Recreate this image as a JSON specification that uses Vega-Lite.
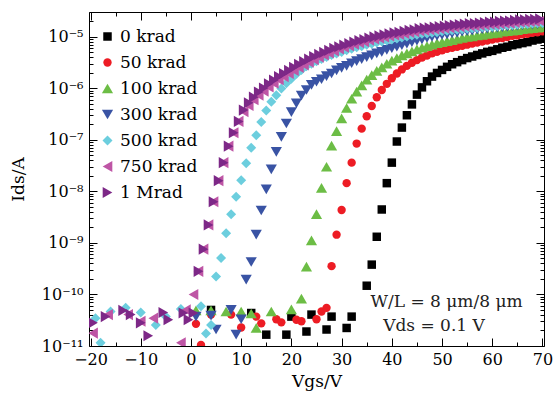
{
"$schema":"https://vega.github.io/schema/vega-lite/v6.json",
"width":455,"height":334,
"autosize":{"type":"none"},
"padding":{"left":89,"top":12,"right":10,"bottom":54},
"background":"white",
"config":{"view":{"stroke":null},"font":"DejaVu Serif",
 "axis":{"grid":false,"domainColor":"black","tickColor":"black","labelColor":"black","titleColor":"black","labelFont":"DejaVu Serif","titleFont":"DejaVu Serif","labelFontSize":16,"titleFontSize":17,"titleFontWeight":"normal","domainWidth":1,"tickWidth":1},
 "legend":{"orient":"none","legendX":10,"legendY":16,"padding":0,"labelFont":"DejaVu Serif","labelFontSize":17,"labelColor":"black","rowPadding":8,"labelOffset":4,"symbolStrokeWidth":0,"symbolOpacity":1}},
"datasets":{
"pts":[
{"s":"0 krad","v":4,"i":5.01e-11},{"s":"0 krad","v":12,"i":4.37e-11},{"s":"0 krad","v":15,"i":1.66e-11},{"s":"0 krad","v":19,"i":1.66e-11},{"s":"0 krad","v":20,"i":3.72e-11},{"s":"0 krad","v":23,"i":1.91e-11},{"s":"0 krad","v":24,"i":4.07e-11},{"s":"0 krad","v":27,"i":2.09e-11},{"s":"0 krad","v":28,"i":3.72e-11},{"s":"0 krad","v":31,"i":2.24e-11},{"s":"0 krad","v":32,"i":3.72e-11},
{"s":"0 krad","v":35,"i":1.48e-10},{"s":"0 krad","v":36,"i":3.80e-10},{"s":"0 krad","v":37,"i":1.32e-9},{"s":"0 krad","v":38,"i":4.47e-9},{"s":"0 krad","v":39,"i":1.45e-8},{"s":"0 krad","v":40,"i":3.63e-8},{"s":"0 krad","v":41,"i":9.33e-8},{"s":"0 krad","v":42,"i":1.74e-7},{"s":"0 krad","v":43,"i":3.02e-7},{"s":"0 krad","v":44,"i":4.90e-7},{"s":"0 krad","v":45,"i":7.59e-7},{"s":"0 krad","v":46,"i":1.05e-6},{"s":"0 krad","v":47,"i":1.38e-6},{"s":"0 krad","v":48,"i":1.70e-6},{"s":"0 krad","v":49,"i":2.00e-6},{"s":"0 krad","v":50,"i":2.29e-6},{"s":"0 krad","v":51,"i":2.63e-6},{"s":"0 krad","v":52,"i":2.95e-6},{"s":"0 krad","v":53,"i":3.24e-6},{"s":"0 krad","v":54,"i":3.55e-6},{"s":"0 krad","v":55,"i":3.89e-6},{"s":"0 krad","v":56,"i":4.17e-6},{"s":"0 krad","v":57,"i":4.47e-6},{"s":"0 krad","v":58,"i":4.79e-6},{"s":"0 krad","v":59,"i":5.13e-6},{"s":"0 krad","v":60,"i":5.37e-6},{"s":"0 krad","v":61,"i":5.75e-6},{"s":"0 krad","v":62,"i":6.17e-6},{"s":"0 krad","v":63,"i":6.46e-6},{"s":"0 krad","v":64,"i":6.92e-6},{"s":"0 krad","v":65,"i":7.24e-6},{"s":"0 krad","v":66,"i":7.59e-6},{"s":"0 krad","v":67,"i":7.94e-6},{"s":"0 krad","v":68,"i":8.51e-6},{"s":"0 krad","v":69,"i":8.91e-6},{"s":"0 krad","v":70,"i":9.33e-6},
{"s":"50 krad","v":1,"i":2.69e-11},{"s":"50 krad","v":2,"i":1.05e-11},{"s":"50 krad","v":4,"i":4.07e-11},{"s":"50 krad","v":8,"i":4.07e-11},{"s":"50 krad","v":10,"i":2.29e-11},{"s":"50 krad","v":13,"i":3.72e-11},{"s":"50 krad","v":14,"i":2.75e-11},{"s":"50 krad","v":17,"i":3.31e-11},{"s":"50 krad","v":18,"i":2.88e-11},{"s":"50 krad","v":21,"i":3.24e-11},{"s":"50 krad","v":22,"i":3.02e-11},{"s":"50 krad","v":25,"i":3.31e-11},{"s":"50 krad","v":26,"i":4.68e-11},{"s":"50 krad","v":27,"i":5.50e-11},
{"s":"50 krad","v":28,"i":3.55e-10},{"s":"50 krad","v":29,"i":1.45e-9},{"s":"50 krad","v":30,"i":4.37e-9},{"s":"50 krad","v":31,"i":1.45e-8},{"s":"50 krad","v":32,"i":3.63e-8},{"s":"50 krad","v":33,"i":8.51e-8},{"s":"50 krad","v":34,"i":1.66e-7},{"s":"50 krad","v":35,"i":2.88e-7},{"s":"50 krad","v":36,"i":4.57e-7},{"s":"50 krad","v":37,"i":6.76e-7},{"s":"50 krad","v":38,"i":9.33e-7},{"s":"50 krad","v":39,"i":1.23e-6},{"s":"50 krad","v":40,"i":1.58e-6},{"s":"50 krad","v":41,"i":1.95e-6},{"s":"50 krad","v":42,"i":2.34e-6},{"s":"50 krad","v":43,"i":2.75e-6},{"s":"50 krad","v":44,"i":3.16e-6},{"s":"50 krad","v":45,"i":3.55e-6},{"s":"50 krad","v":46,"i":3.98e-6},{"s":"50 krad","v":47,"i":4.37e-6},{"s":"50 krad","v":48,"i":4.79e-6},{"s":"50 krad","v":49,"i":5.13e-6},{"s":"50 krad","v":50,"i":5.50e-6},{"s":"50 krad","v":51,"i":5.89e-6},{"s":"50 krad","v":52,"i":6.17e-6},{"s":"50 krad","v":53,"i":6.46e-6},{"s":"50 krad","v":54,"i":6.76e-6},{"s":"50 krad","v":55,"i":7.08e-6},{"s":"50 krad","v":56,"i":7.41e-6},{"s":"50 krad","v":57,"i":7.76e-6},{"s":"50 krad","v":58,"i":8.13e-6},{"s":"50 krad","v":59,"i":8.51e-6},{"s":"50 krad","v":60,"i":8.91e-6},{"s":"50 krad","v":61,"i":9.33e-6},{"s":"50 krad","v":62,"i":9.55e-6},{"s":"50 krad","v":63,"i":1.00e-5},{"s":"50 krad","v":64,"i":1.05e-5},{"s":"50 krad","v":65,"i":1.07e-5},{"s":"50 krad","v":66,"i":1.12e-5},{"s":"50 krad","v":67,"i":1.15e-5},{"s":"50 krad","v":68,"i":1.20e-5},{"s":"50 krad","v":69,"i":1.23e-5},{"s":"50 krad","v":70,"i":1.29e-5},
{"s":"100 krad","v":1,"i":4.90e-11},{"s":"100 krad","v":4,"i":4.90e-11},{"s":"100 krad","v":7,"i":4.68e-11},{"s":"100 krad","v":10,"i":4.68e-11},{"s":"100 krad","v":12,"i":4.27e-11},{"s":"100 krad","v":13,"i":2.24e-11},{"s":"100 krad","v":16,"i":4.68e-11},{"s":"100 krad","v":20,"i":5.13e-11},
{"s":"100 krad","v":22,"i":8.32e-11},{"s":"100 krad","v":23,"i":3.47e-10},{"s":"100 krad","v":24,"i":1.12e-9},{"s":"100 krad","v":25,"i":3.63e-9},{"s":"100 krad","v":26,"i":1.17e-8},{"s":"100 krad","v":27,"i":3.02e-8},{"s":"100 krad","v":28,"i":7.76e-8},{"s":"100 krad","v":29,"i":1.48e-7},{"s":"100 krad","v":30,"i":2.63e-7},{"s":"100 krad","v":31,"i":4.17e-7},{"s":"100 krad","v":32,"i":6.31e-7},{"s":"100 krad","v":33,"i":8.71e-7},{"s":"100 krad","v":34,"i":1.15e-6},{"s":"100 krad","v":35,"i":1.48e-6},{"s":"100 krad","v":36,"i":1.82e-6},{"s":"100 krad","v":37,"i":2.19e-6},{"s":"100 krad","v":38,"i":2.57e-6},{"s":"100 krad","v":39,"i":3.02e-6},{"s":"100 krad","v":40,"i":3.47e-6},{"s":"100 krad","v":41,"i":3.89e-6},{"s":"100 krad","v":42,"i":4.37e-6},{"s":"100 krad","v":43,"i":4.79e-6},{"s":"100 krad","v":44,"i":5.25e-6},{"s":"100 krad","v":45,"i":5.75e-6},{"s":"100 krad","v":46,"i":6.17e-6},{"s":"100 krad","v":47,"i":6.61e-6},{"s":"100 krad","v":48,"i":7.08e-6},{"s":"100 krad","v":49,"i":7.59e-6},{"s":"100 krad","v":50,"i":7.94e-6},{"s":"100 krad","v":51,"i":8.32e-6},{"s":"100 krad","v":52,"i":8.71e-6},{"s":"100 krad","v":53,"i":9.12e-6},{"s":"100 krad","v":54,"i":9.55e-6},{"s":"100 krad","v":55,"i":1.00e-5},{"s":"100 krad","v":56,"i":1.02e-5},{"s":"100 krad","v":57,"i":1.07e-5},{"s":"100 krad","v":58,"i":1.10e-5},{"s":"100 krad","v":59,"i":1.15e-5},{"s":"100 krad","v":60,"i":1.17e-5},{"s":"100 krad","v":61,"i":1.20e-5},{"s":"100 krad","v":62,"i":1.26e-5},{"s":"100 krad","v":63,"i":1.29e-5},{"s":"100 krad","v":64,"i":1.32e-5},{"s":"100 krad","v":65,"i":1.35e-5},{"s":"100 krad","v":66,"i":1.41e-5},{"s":"100 krad","v":67,"i":1.45e-5},{"s":"100 krad","v":68,"i":1.48e-5},{"s":"100 krad","v":69,"i":1.51e-5},{"s":"100 krad","v":70,"i":1.55e-5},
{"s":"300 krad","v":1,"i":3.72e-11},{"s":"300 krad","v":4,"i":3.89e-11},{"s":"300 krad","v":5,"i":2.09e-11},{"s":"300 krad","v":8,"i":5.01e-11},{"s":"300 krad","v":9,"i":1.66e-11},{"s":"300 krad","v":10,"i":3.31e-11},
{"s":"300 krad","v":11,"i":1.95e-10},{"s":"300 krad","v":12,"i":4.27e-10},{"s":"300 krad","v":13,"i":1.45e-9},{"s":"300 krad","v":14,"i":4.27e-9},{"s":"300 krad","v":15,"i":1.10e-8},{"s":"300 krad","v":16,"i":2.69e-8},{"s":"300 krad","v":17,"i":5.89e-8},{"s":"300 krad","v":18,"i":1.15e-7},{"s":"300 krad","v":19,"i":2.09e-7},{"s":"300 krad","v":20,"i":3.47e-7},{"s":"300 krad","v":21,"i":5.13e-7},{"s":"300 krad","v":22,"i":7.24e-7},{"s":"300 krad","v":23,"i":9.33e-7},{"s":"300 krad","v":24,"i":1.17e-6},{"s":"300 krad","v":25,"i":1.35e-6},{"s":"300 krad","v":26,"i":1.51e-6},{"s":"300 krad","v":27,"i":1.74e-6},{"s":"300 krad","v":28,"i":1.95e-6},{"s":"300 krad","v":29,"i":2.24e-6},{"s":"300 krad","v":30,"i":2.51e-6},{"s":"300 krad","v":31,"i":2.75e-6},{"s":"300 krad","v":32,"i":3.09e-6},{"s":"300 krad","v":33,"i":3.39e-6},{"s":"300 krad","v":34,"i":3.72e-6},{"s":"300 krad","v":35,"i":4.07e-6},{"s":"300 krad","v":36,"i":4.37e-6},{"s":"300 krad","v":37,"i":4.79e-6},{"s":"300 krad","v":38,"i":5.13e-6},{"s":"300 krad","v":39,"i":5.62e-6},{"s":"300 krad","v":40,"i":6.03e-6},{"s":"300 krad","v":41,"i":6.46e-6},{"s":"300 krad","v":42,"i":6.92e-6},{"s":"300 krad","v":43,"i":7.41e-6},{"s":"300 krad","v":44,"i":7.94e-6},{"s":"300 krad","v":45,"i":8.51e-6},{"s":"300 krad","v":46,"i":8.91e-6},{"s":"300 krad","v":47,"i":9.55e-6},{"s":"300 krad","v":48,"i":1.00e-5},{"s":"300 krad","v":49,"i":1.05e-5},{"s":"300 krad","v":50,"i":1.10e-5},{"s":"300 krad","v":51,"i":1.12e-5},{"s":"300 krad","v":52,"i":1.17e-5},{"s":"300 krad","v":53,"i":1.20e-5},{"s":"300 krad","v":54,"i":1.26e-5},{"s":"300 krad","v":55,"i":1.29e-5},{"s":"300 krad","v":56,"i":1.32e-5},{"s":"300 krad","v":57,"i":1.38e-5},{"s":"300 krad","v":58,"i":1.41e-5},{"s":"300 krad","v":59,"i":1.45e-5},{"s":"300 krad","v":60,"i":1.48e-5},{"s":"300 krad","v":61,"i":1.51e-5},{"s":"300 krad","v":62,"i":1.55e-5},{"s":"300 krad","v":63,"i":1.58e-5},{"s":"300 krad","v":64,"i":1.62e-5},{"s":"300 krad","v":65,"i":1.66e-5},{"s":"300 krad","v":66,"i":1.70e-5},{"s":"300 krad","v":67,"i":1.74e-5},{"s":"300 krad","v":68,"i":1.74e-5},{"s":"300 krad","v":69,"i":1.78e-5},{"s":"300 krad","v":70,"i":1.82e-5},
{"s":"500 krad","v":-19,"i":3.47e-11},{"s":"500 krad","v":-18,"i":1.15e-11},{"s":"500 krad","v":-16,"i":4.68e-11},{"s":"500 krad","v":-13,"i":5.50e-11},{"s":"500 krad","v":-10,"i":4.47e-11},{"s":"500 krad","v":-7,"i":2.57e-11},{"s":"500 krad","v":-5,"i":3.72e-11},{"s":"500 krad","v":-2,"i":5.25e-11},{"s":"500 krad","v":2,"i":5.89e-11},{"s":"500 krad","v":3,"i":1.74e-11},{"s":"500 krad","v":4,"i":2.57e-11},
{"s":"500 krad","v":5,"i":2.24e-10},{"s":"500 krad","v":6,"i":5.13e-10},{"s":"500 krad","v":7,"i":1.55e-9},{"s":"500 krad","v":8,"i":3.63e-9},{"s":"500 krad","v":9,"i":7.94e-9},{"s":"500 krad","v":10,"i":1.66e-8},{"s":"500 krad","v":11,"i":3.55e-8},{"s":"500 krad","v":12,"i":7.08e-8},{"s":"500 krad","v":13,"i":1.23e-7},{"s":"500 krad","v":14,"i":2.24e-7},{"s":"500 krad","v":15,"i":3.72e-7},{"s":"500 krad","v":16,"i":5.50e-7},{"s":"500 krad","v":17,"i":7.41e-7},{"s":"500 krad","v":18,"i":1.00e-6},{"s":"500 krad","v":19,"i":1.26e-6},{"s":"500 krad","v":20,"i":1.55e-6},{"s":"500 krad","v":21,"i":1.91e-6},{"s":"500 krad","v":22,"i":2.29e-6},{"s":"500 krad","v":23,"i":2.69e-6},{"s":"500 krad","v":24,"i":3.02e-6},{"s":"500 krad","v":25,"i":3.39e-6},{"s":"500 krad","v":26,"i":3.72e-6},{"s":"500 krad","v":27,"i":4.07e-6},{"s":"500 krad","v":28,"i":4.47e-6},{"s":"500 krad","v":29,"i":4.79e-6},{"s":"500 krad","v":30,"i":5.13e-6},{"s":"500 krad","v":31,"i":5.50e-6},{"s":"500 krad","v":32,"i":5.89e-6},{"s":"500 krad","v":33,"i":6.31e-6},{"s":"500 krad","v":34,"i":6.61e-6},{"s":"500 krad","v":35,"i":7.08e-6},{"s":"500 krad","v":36,"i":7.41e-6},{"s":"500 krad","v":37,"i":7.76e-6},{"s":"500 krad","v":38,"i":8.13e-6},{"s":"500 krad","v":39,"i":8.51e-6},{"s":"500 krad","v":40,"i":8.91e-6},{"s":"500 krad","v":41,"i":9.33e-6},{"s":"500 krad","v":42,"i":9.77e-6},{"s":"500 krad","v":43,"i":1.02e-5},{"s":"500 krad","v":44,"i":1.07e-5},{"s":"500 krad","v":45,"i":1.10e-5},{"s":"500 krad","v":46,"i":1.15e-5},{"s":"500 krad","v":47,"i":1.17e-5},{"s":"500 krad","v":48,"i":1.20e-5},{"s":"500 krad","v":49,"i":1.23e-5},{"s":"500 krad","v":50,"i":1.29e-5},{"s":"500 krad","v":51,"i":1.32e-5},{"s":"500 krad","v":52,"i":1.35e-5},{"s":"500 krad","v":53,"i":1.38e-5},{"s":"500 krad","v":54,"i":1.41e-5},{"s":"500 krad","v":55,"i":1.45e-5},{"s":"500 krad","v":56,"i":1.48e-5},{"s":"500 krad","v":57,"i":1.51e-5},{"s":"500 krad","v":58,"i":1.55e-5},{"s":"500 krad","v":59,"i":1.58e-5},{"s":"500 krad","v":60,"i":1.58e-5},{"s":"500 krad","v":61,"i":1.62e-5},{"s":"500 krad","v":62,"i":1.66e-5},{"s":"500 krad","v":63,"i":1.70e-5},{"s":"500 krad","v":64,"i":1.70e-5},{"s":"500 krad","v":65,"i":1.74e-5},{"s":"500 krad","v":66,"i":1.78e-5},{"s":"500 krad","v":67,"i":1.78e-5},{"s":"500 krad","v":68,"i":1.82e-5},{"s":"500 krad","v":69,"i":1.86e-5},{"s":"500 krad","v":70,"i":1.86e-5},
{"s":"750 krad","v":-19.5,"i":1.78e-11},{"s":"750 krad","v":-16.5,"i":4.07e-11},{"s":"750 krad","v":-12.5,"i":4.07e-11},{"s":"750 krad","v":-10,"i":3.02e-11},{"s":"750 krad","v":-7.5,"i":3.47e-11},{"s":"750 krad","v":-2,"i":1.15e-11},{"s":"750 krad","v":-1,"i":5.01e-11},{"s":"750 krad","v":0.5,"i":1.00e-10},
{"s":"750 krad","v":1.5,"i":2.82e-10},{"s":"750 krad","v":2.5,"i":7.59e-10},{"s":"750 krad","v":3.5,"i":2.24e-9},{"s":"750 krad","v":4.5,"i":6.31e-9},{"s":"750 krad","v":5.5,"i":1.62e-8},{"s":"750 krad","v":6.5,"i":3.63e-8},{"s":"750 krad","v":7.5,"i":7.59e-8},{"s":"750 krad","v":8.5,"i":1.38e-7},{"s":"750 krad","v":9.5,"i":2.29e-7},{"s":"750 krad","v":10.5,"i":3.55e-7},{"s":"750 krad","v":11.5,"i":4.68e-7},{"s":"750 krad","v":12.5,"i":6.03e-7},{"s":"750 krad","v":13.5,"i":7.41e-7},{"s":"750 krad","v":14.5,"i":8.91e-7},{"s":"750 krad","v":15.5,"i":1.07e-6},{"s":"750 krad","v":16.5,"i":1.26e-6},{"s":"750 krad","v":17.5,"i":1.48e-6},{"s":"750 krad","v":18.5,"i":1.70e-6},{"s":"750 krad","v":19.5,"i":1.95e-6},{"s":"750 krad","v":20.5,"i":2.24e-6},{"s":"750 krad","v":21.5,"i":2.57e-6},{"s":"750 krad","v":22.5,"i":2.88e-6},{"s":"750 krad","v":23.5,"i":3.24e-6},{"s":"750 krad","v":24.5,"i":3.63e-6},{"s":"750 krad","v":25.5,"i":4.07e-6},{"s":"750 krad","v":26.5,"i":4.47e-6},{"s":"750 krad","v":27.5,"i":4.90e-6},{"s":"750 krad","v":28.5,"i":5.37e-6},{"s":"750 krad","v":29.5,"i":5.89e-6},{"s":"750 krad","v":30.5,"i":6.31e-6},{"s":"750 krad","v":31.5,"i":6.76e-6},{"s":"750 krad","v":32.5,"i":7.24e-6},{"s":"750 krad","v":33.5,"i":7.76e-6},{"s":"750 krad","v":34.5,"i":8.13e-6},{"s":"750 krad","v":35.5,"i":8.71e-6},{"s":"750 krad","v":36.5,"i":9.12e-6},{"s":"750 krad","v":37.5,"i":9.55e-6},{"s":"750 krad","v":38.5,"i":1.00e-5},{"s":"750 krad","v":39.5,"i":1.05e-5},{"s":"750 krad","v":40.5,"i":1.10e-5},{"s":"750 krad","v":41.5,"i":1.12e-5},{"s":"750 krad","v":42.5,"i":1.17e-5},{"s":"750 krad","v":43.5,"i":1.23e-5},{"s":"750 krad","v":44.5,"i":1.26e-5},{"s":"750 krad","v":45.5,"i":1.32e-5},{"s":"750 krad","v":46.5,"i":1.35e-5},{"s":"750 krad","v":47.5,"i":1.38e-5},{"s":"750 krad","v":48.5,"i":1.41e-5},{"s":"750 krad","v":49.5,"i":1.45e-5},{"s":"750 krad","v":50.5,"i":1.48e-5},{"s":"750 krad","v":51.5,"i":1.51e-5},{"s":"750 krad","v":52.5,"i":1.55e-5},{"s":"750 krad","v":53.5,"i":1.58e-5},{"s":"750 krad","v":54.5,"i":1.62e-5},{"s":"750 krad","v":55.5,"i":1.66e-5},{"s":"750 krad","v":56.5,"i":1.66e-5},{"s":"750 krad","v":57.5,"i":1.70e-5},{"s":"750 krad","v":58.5,"i":1.74e-5},{"s":"750 krad","v":59.5,"i":1.78e-5},{"s":"750 krad","v":60.5,"i":1.78e-5},{"s":"750 krad","v":61.5,"i":1.82e-5},{"s":"750 krad","v":62.5,"i":1.86e-5},{"s":"750 krad","v":63.5,"i":1.86e-5},{"s":"750 krad","v":64.5,"i":1.91e-5},{"s":"750 krad","v":65.5,"i":1.95e-5},{"s":"750 krad","v":66.5,"i":1.95e-5},{"s":"750 krad","v":67.5,"i":2.00e-5},{"s":"750 krad","v":68.5,"i":2.00e-5},{"s":"750 krad","v":69.5,"i":2.04e-5},
{"s":"1 Mrad","v":-19.5,"i":2.82e-11},{"s":"1 Mrad","v":-17,"i":3.72e-11},{"s":"1 Mrad","v":-13.5,"i":4.90e-11},{"s":"1 Mrad","v":-12,"i":4.07e-11},{"s":"1 Mrad","v":-10,"i":2.82e-11},{"s":"1 Mrad","v":-8.5,"i":1.58e-11},{"s":"1 Mrad","v":-5.5,"i":4.47e-11},{"s":"1 Mrad","v":-4.5,"i":3.24e-11},{"s":"1 Mrad","v":-1.5,"i":4.37e-11},{"s":"1 Mrad","v":-0.5,"i":3.24e-11},{"s":"1 Mrad","v":0.5,"i":4.37e-11},
{"s":"1 Mrad","v":1.5,"i":2.82e-10},{"s":"1 Mrad","v":2.5,"i":7.59e-10},{"s":"1 Mrad","v":3.5,"i":2.24e-9},{"s":"1 Mrad","v":4.5,"i":6.31e-9},{"s":"1 Mrad","v":5.5,"i":1.62e-8},{"s":"1 Mrad","v":6.5,"i":3.63e-8},{"s":"1 Mrad","v":7.5,"i":7.59e-8},{"s":"1 Mrad","v":8.5,"i":1.38e-7},{"s":"1 Mrad","v":9.5,"i":2.29e-7},{"s":"1 Mrad","v":10.5,"i":3.80e-7},{"s":"1 Mrad","v":11.5,"i":5.25e-7},{"s":"1 Mrad","v":12.5,"i":6.76e-7},{"s":"1 Mrad","v":13.5,"i":8.51e-7},{"s":"1 Mrad","v":14.5,"i":1.02e-6},{"s":"1 Mrad","v":15.5,"i":1.23e-6},{"s":"1 Mrad","v":16.5,"i":1.45e-6},{"s":"1 Mrad","v":17.5,"i":1.70e-6},{"s":"1 Mrad","v":18.5,"i":1.95e-6},{"s":"1 Mrad","v":19.5,"i":2.24e-6},{"s":"1 Mrad","v":20.5,"i":2.57e-6},{"s":"1 Mrad","v":21.5,"i":2.95e-6},{"s":"1 Mrad","v":22.5,"i":3.31e-6},{"s":"1 Mrad","v":23.5,"i":3.72e-6},{"s":"1 Mrad","v":24.5,"i":4.17e-6},{"s":"1 Mrad","v":25.5,"i":4.57e-6},{"s":"1 Mrad","v":26.5,"i":5.01e-6},{"s":"1 Mrad","v":27.5,"i":5.50e-6},{"s":"1 Mrad","v":28.5,"i":6.03e-6},{"s":"1 Mrad","v":29.5,"i":6.46e-6},{"s":"1 Mrad","v":30.5,"i":6.92e-6},{"s":"1 Mrad","v":31.5,"i":7.41e-6},{"s":"1 Mrad","v":32.5,"i":7.94e-6},{"s":"1 Mrad","v":33.5,"i":8.51e-6},{"s":"1 Mrad","v":34.5,"i":8.91e-6},{"s":"1 Mrad","v":35.5,"i":9.55e-6},{"s":"1 Mrad","v":36.5,"i":1.00e-5},{"s":"1 Mrad","v":37.5,"i":1.05e-5},{"s":"1 Mrad","v":38.5,"i":1.10e-5},{"s":"1 Mrad","v":39.5,"i":1.15e-5},{"s":"1 Mrad","v":40.5,"i":1.20e-5},{"s":"1 Mrad","v":41.5,"i":1.23e-5},{"s":"1 Mrad","v":42.5,"i":1.29e-5},{"s":"1 Mrad","v":43.5,"i":1.35e-5},{"s":"1 Mrad","v":44.5,"i":1.38e-5},{"s":"1 Mrad","v":45.5,"i":1.45e-5},{"s":"1 Mrad","v":46.5,"i":1.48e-5},{"s":"1 Mrad","v":47.5,"i":1.51e-5},{"s":"1 Mrad","v":48.5,"i":1.55e-5},{"s":"1 Mrad","v":49.5,"i":1.58e-5},{"s":"1 Mrad","v":50.5,"i":1.62e-5},{"s":"1 Mrad","v":51.5,"i":1.66e-5},{"s":"1 Mrad","v":52.5,"i":1.70e-5},{"s":"1 Mrad","v":53.5,"i":1.74e-5},{"s":"1 Mrad","v":54.5,"i":1.78e-5},{"s":"1 Mrad","v":55.5,"i":1.82e-5},{"s":"1 Mrad","v":56.5,"i":1.82e-5},{"s":"1 Mrad","v":57.5,"i":1.86e-5},{"s":"1 Mrad","v":58.5,"i":1.91e-5},{"s":"1 Mrad","v":59.5,"i":1.95e-5},{"s":"1 Mrad","v":60.5,"i":1.95e-5},{"s":"1 Mrad","v":61.5,"i":2.00e-5},{"s":"1 Mrad","v":62.5,"i":2.04e-5},{"s":"1 Mrad","v":63.5,"i":2.04e-5},{"s":"1 Mrad","v":64.5,"i":2.09e-5},{"s":"1 Mrad","v":65.5,"i":2.14e-5},{"s":"1 Mrad","v":66.5,"i":2.14e-5},{"s":"1 Mrad","v":67.5,"i":2.19e-5},{"s":"1 Mrad","v":68.5,"i":2.19e-5},{"s":"1 Mrad","v":69.5,"i":2.24e-5}
],
"notes":[{"v":50.9,"i":7.0e-11,"t":"W/L = 8 μm/8 μm"},{"v":48.4,"i":2.4e-11,"t":"Vds = 0.1 V"}],
"anchor":[{"v":0,"i":1e-8}]
},
"resolve":{"axis":{"x":"independent","y":"independent"}},
"layer":[
{"data":{"name":"pts"},
 "mark":{"type":"point","filled":true,"opacity":1,"strokeWidth":0,"clip":true},
 "encoding":{
  "x":{"field":"v","type":"quantitative","scale":{"domain":[-20.3,70.3],"nice":false,"zero":false},
       "axis":{"orient":"bottom","values":[-20,-10,0,10,20,30,40,50,60,70],"tickSize":-8,"labelPadding":13,"title":"Vgs/V","titlePadding":6}},
  "y":{"field":"i","type":"quantitative","scale":{"type":"log","domain":[1e-11,3.05e-5],"nice":false},
       "axis":{"orient":"left","values":[1e-11,1e-10,1e-9,1e-8,1e-7,1e-6,1e-5],"tickSize":-8,"labelPadding":14,"title":"Ids/A","titlePadding":14,
        "labelExpr":"round(log(datum.value)/LN10)==-5?'10⁻⁵':round(log(datum.value)/LN10)==-6?'10⁻⁶':round(log(datum.value)/LN10)==-7?'10⁻⁷':round(log(datum.value)/LN10)==-8?'10⁻⁸':round(log(datum.value)/LN10)==-9?'10⁻⁹':round(log(datum.value)/LN10)==-10?'10⁻¹⁰':'10⁻¹¹'"}},
  "color":{"field":"s","type":"nominal","sort":null,"scale":{"domain":["0 krad","50 krad","100 krad","300 krad","500 krad","750 krad","1 Mrad"],"range":["#000000","#ed1c24","#6cbd45","#3953a4","#6ccede","#be55a5","#7d2887"]},"legend":{"title":null}},
  "shape":{"field":"s","type":"nominal","sort":null,"scale":{"domain":["0 krad","50 krad","100 krad","300 krad","500 krad","750 krad","1 Mrad"],"range":["square","circle","triangle-up","triangle-down","diamond","triangle-left","triangle-right"]},"legend":{"title":null}},
  "size":{"field":"s","type":"nominal","sort":null,"scale":{"type":"ordinal","domain":["0 krad","50 krad","100 krad","300 krad","500 krad","750 krad","1 Mrad"],"range":[72,70,125,125,100,125,125]},"legend":{"title":null}}
 }},
{"data":{"name":"anchor"},"mark":{"type":"point","opacity":0},
 "encoding":{
  "x":{"field":"v","type":"quantitative","scale":{"domain":[-20.3,70.3],"nice":false,"zero":false},"axis":{"orient":"bottom","values":[-15,-5,5,15,25,35,45,55,65],"tickSize":-4,"labels":false,"domain":false,"title":null}},
  "y":{"field":"i","type":"quantitative","scale":{"type":"log","domain":[1e-11,3.05e-5],"nice":false},"axis":{"orient":"left","values":[2e-11,3e-11,4e-11,5e-11,6e-11,7e-11,8e-11,9e-11,2e-10,3e-10,4e-10,5e-10,6e-10,7e-10,8e-10,9e-10,2e-9,3e-9,4e-9,5e-9,6e-9,7e-9,8e-9,9e-9,2e-8,3e-8,4e-8,5e-8,6e-8,7e-8,8e-8,9e-8,2e-7,3e-7,4e-7,5e-7,6e-7,7e-7,8e-7,9e-7,2e-6,3e-6,4e-6,5e-6,6e-6,7e-6,8e-6,9e-6,2e-5,3e-5],"tickSize":-4,"labels":false,"domain":false,"title":null}}
 }},
{"data":{"name":"anchor"},"mark":{"type":"point","opacity":0},
 "encoding":{
  "x":{"field":"v","type":"quantitative","scale":{"domain":[-20.3,70.3],"nice":false,"zero":false},"axis":{"orient":"top","values":[-20,-10,0,10,20,30,40,50,60,70],"tickSize":-8,"labels":false,"title":null}},
  "y":{"field":"i","type":"quantitative","scale":{"type":"log","domain":[1e-11,3.05e-5],"nice":false},"axis":{"orient":"right","values":[1e-11,1e-10,1e-9,1e-8,1e-7,1e-6,1e-5],"tickSize":-8,"labels":false,"title":null}}
 }},
{"data":{"name":"anchor"},"mark":{"type":"point","opacity":0},
 "encoding":{
  "x":{"field":"v","type":"quantitative","scale":{"domain":[-20.3,70.3],"nice":false,"zero":false},"axis":{"orient":"top","values":[-15,-5,5,15,25,35,45,55,65],"tickSize":-4,"labels":false,"domain":false,"title":null}},
  "y":{"field":"i","type":"quantitative","scale":{"type":"log","domain":[1e-11,3.05e-5],"nice":false},"axis":{"orient":"right","values":[2e-11,3e-11,4e-11,5e-11,6e-11,7e-11,8e-11,9e-11,2e-10,3e-10,4e-10,5e-10,6e-10,7e-10,8e-10,9e-10,2e-9,3e-9,4e-9,5e-9,6e-9,7e-9,8e-9,9e-9,2e-8,3e-8,4e-8,5e-8,6e-8,7e-8,8e-8,9e-8,2e-7,3e-7,4e-7,5e-7,6e-7,7e-7,8e-7,9e-7,2e-6,3e-6,4e-6,5e-6,6e-6,7e-6,8e-6,9e-6,2e-5,3e-5],"tickSize":-4,"labels":false,"domain":false,"title":null}}
 }},
{"data":{"name":"notes"},"mark":{"type":"text","font":"DejaVu Serif","fontSize":17,"color":"#222222","align":"center","baseline":"middle"},
 "encoding":{
  "x":{"field":"v","type":"quantitative","scale":{"domain":[-20.3,70.3],"nice":false,"zero":false},"axis":null},
  "y":{"field":"i","type":"quantitative","scale":{"type":"log","domain":[1e-11,3.05e-5],"nice":false},"axis":null},
  "text":{"field":"t"}
 }}
]
}
